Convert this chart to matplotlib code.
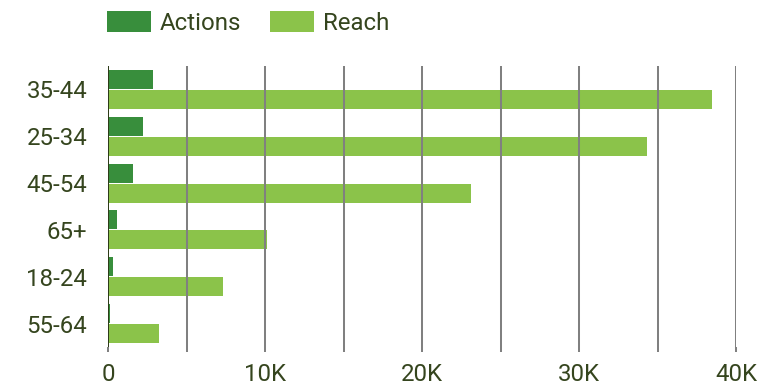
import matplotlib
matplotlib.use("Agg")
import matplotlib.pyplot as plt
from matplotlib.ticker import MultipleLocator, FuncFormatter
import numpy as np

age_groups = ["35-44", "25-34", "45-54", "65+", "18-24", "55-64"]
actions = [2870, 2230, 1600, 570, 300, 140]
reach = [38500, 34300, 23100, 10100, 7300, 3250]

text_color = "#35451e"
plt.rcParams["font.family"] = ["Roboto", "DejaVu Sans"]

fig = plt.figure(figsize=(7.79, 3.85), dpi=100)
ax = fig.add_axes([108 / 779, 1 - 347 / 385, 628 / 779, 281 / 385])

y = np.arange(len(age_groups))
h = 0.405
ax.barh(y - 0.214, actions, height=h, color="#388e3c", label="Actions", zorder=1)
ax.barh(y + 0.214, reach, height=h, color="#8bc34a", label="Reach", zorder=1)

ax.set_xlim(0, 40000)
ax.set_ylim(len(age_groups) - 0.5, -0.5)
ax.set_yticks(y)
ax.set_yticklabels(age_groups)

ax.xaxis.set_major_locator(MultipleLocator(5000))
ax.xaxis.set_major_formatter(FuncFormatter(
    lambda v, p: "" if v % 10000 else ("0" if v == 0 else f"{int(v / 1000)}K")))

ax.grid(axis="x", color="#808080", linewidth=1.45, zorder=2)
ax.grid(axis="y", visible=False)
ax.set_axisbelow(False)
ax.axvline(0, color="#2b3a16", linewidth=1.4, zorder=3)

for s in ax.spines.values():
    s.set_visible(False)

ax.tick_params(axis="y", length=0, pad=15, labelsize=17.3, labelcolor=text_color)
ax.tick_params(axis="x", length=3.8, width=1.45, color="#808080", pad=8,
               labelsize=17.3, labelcolor=text_color)

fig.legend(loc="upper left", bbox_to_anchor=(100 / 779, 1 - 4 / 385),
           ncol=2, frameon=False, fontsize=17.3, labelcolor=text_color,
           handlelength=1.83, handleheight=0.96, handletextpad=0.37,
           columnspacing=1.2, borderpad=0.3, borderaxespad=0)

fig.savefig("out.png", dpi=100)
